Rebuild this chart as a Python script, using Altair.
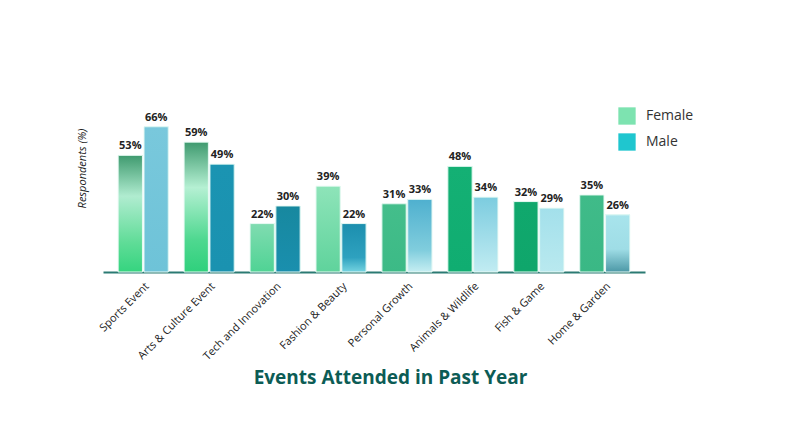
import altair as alt
import pandas as pd

categories = ["Sports Event", "Arts & Culture Event", "Tech and Innovation", "Fashion & Beauty",
              "Personal Growth", "Animals & Wildlife", "Fish & Game", "Home & Garden"]
female = [53, 59, 22, 39, 31, 48, 32, 35]
male = [66, 49, 30, 22, 33, 34, 29, 26]
genders = ["Female", "Male"]
legend_colors = ["#7de3b0", "#1fc6cf"]

# per-bar fill styles (top -> bottom colour stops)
female_fills = [
    [(0, "#3f9a6f"), (0.35, "#b0ecd0"), (0.75, "#5fdc97"), (1, "#35d47f")],
    [(0, "#3f9a6f"), (0.35, "#b5f0d3"), (0.75, "#4fd890"), (1, "#2fd07c")],
    [(0, "#80dcb1"), (1, "#4fd394")],
    [(0, "#8ee4b9"), (1, "#5fd39c")],
    [(0, "#44be8b"), (1, "#3cba86")],
    [(0, "#14b074"), (1, "#10ad71")],
    [(0, "#10a86d"), (1, "#0fa66b")],
    [(0, "#40bb89"), (1, "#3ab885")],
]
male_fills = [
    [(0, "#79c8dc"), (1, "#6ec3d8")],
    [(0, "#1b94b2"), (1, "#1a92b0")],
    [(0, "#17889f"), (1, "#1a8fae")],
    [(0, "#1c8fae"), (0.7, "#2ea1bf"), (1, "#74d3e0")],
    [(0, "#4fb0cf"), (0.7, "#80cddd"), (1, "#c5eef2")],
    [(0, "#7cccdf"), (1, "#c1ecf2")],
    [(0, "#a3e0eb"), (1, "#b9e9ef")],
    [(0, "#a8e4ec"), (0.6, "#9fdde6"), (1, "#4c98a6")],
]


def grad(stops):
    return {"gradient": "linear", "x1": 0, "x2": 0, "y1": 0, "y2": 1,
            "stops": [{"offset": o, "color": c} for o, c in stops]}


rows = []
for i, c in enumerate(categories):
    rows.append({"category": c, "gender": "Female", "value": female[i],
                 "label": f"{female[i]}%", "fill": grad(female_fills[i])})
    rows.append({"category": c, "gender": "Male", "value": male[i],
                 "label": f"{male[i]}%", "fill": grad(male_fills[i])})
df = pd.DataFrame(rows)

FONT = "Open Sans"

x_enc = alt.X("category:N", sort=categories,
              scale=alt.Scale(paddingInner=0.24, paddingOuter=0.23),
              axis=alt.Axis(title="Events Attended in Past Year", labelAngle=315,
                            labelFontSize=11, labelColor="#222222", labelFont=FONT,
                            labelPadding=8, ticks=False, domainColor="#2b7a73",
                            domainWidth=2, titleFontSize=19, titleFont=FONT,
                            titleFontWeight="bold", titleColor="#0c5c55",
                            titleX=287, titleY=105, titleBaseline="middle",
                            titleAnchor="middle", titleAlign="center"))
xo_enc = alt.XOffset("gender:N", sort=genders,
                     scale=alt.Scale(paddingInner=0.06, paddingOuter=0))
y_enc = alt.Y("value:Q", scale=alt.Scale(domain=[0, 94.5], nice=False),
              axis=alt.Axis(title="Respondents (%)", labels=False, ticks=False,
                            domain=False, grid=False, titleFontStyle="italic",
                            titleFontWeight="normal", titleFontSize=11,
                            titleColor="#222222", titleFont=FONT,
                            titleX=-16, titleY=104, titleAnchor="middle",
                            titleAlign="center"))

base = alt.Chart(df)

legend_bars = base.mark_bar().encode(
    x=x_enc, xOffset=xo_enc, y=y_enc,
    color=alt.Color("gender:N", sort=genders,
                    scale=alt.Scale(domain=genders, range=legend_colors),
                    legend=alt.Legend(title=None, orient="none", legendX=515, legendY=43,
                                      symbolType="square", symbolSize=300,
                                      symbolStrokeWidth=0, labelFontSize=14,
                                      labelFont=FONT, labelColor="#333333",
                                      labelOffset=10, rowPadding=8, padding=0)),
)

grad_bars = base.mark_bar(stroke="#eafaf5", strokeWidth=1).encode(
    x=x_enc, xOffset=xo_enc, y=y_enc,
    fill=alt.Fill("fill:N", scale=None),
)

labels = base.mark_text(fontWeight="bold", fontSize=11, color="#222222", font=FONT,
                        baseline="bottom", dy=-4).encode(
    x=x_enc, xOffset=xo_enc, y=y_enc, text="label:N",
)

chart = alt.layer(legend_bars, grad_bars, labels).properties(
    width=542, height=208,
    autosize=alt.AutoSizeParams(type="none"),
    padding={"left": 95, "top": 56, "right": 120, "bottom": 150},
).configure_view(stroke=None)

chart.save("out.html", embed_options={"renderer": "svg", "actions": False})
